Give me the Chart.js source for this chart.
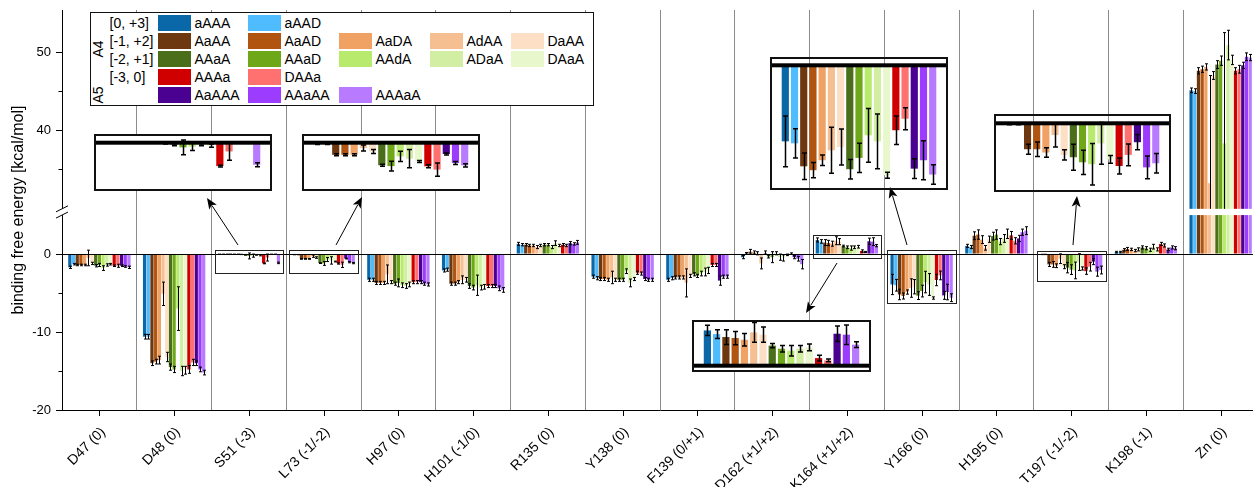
<!DOCTYPE html>
<html>
<head>
<meta charset="utf-8">
<title>Binding free energy</title>
<script src="https://cdn.jsdelivr.net/npm/chart.js@4.4.1/dist/chart.umd.min.js"></script>
<style>
  html, body { margin: 0; padding: 0; background: #fff; overflow: hidden; }
  #wrap { position: relative; width: 1258px; height: 487px; font-family: 'Liberation Sans', Arial, sans-serif; }
  #main { position: absolute; left: 0; top: 0; }
  .inset { position: absolute; border: 2px solid #111; box-sizing: border-box; }
  .inset canvas { display: block; }
  #legend { position: absolute; left: 90px; top: 12px; width: 504px; height: 94px; border: 1.5px solid #111; box-sizing: border-box; background: #fff; font-size: 14px; color: #000; }
  #legend div { position: absolute; white-space: nowrap; line-height: 16px; }
  #legend .sw { width: 33px; height: 16px; }
  #legend .rot { transform: translate(-50%, -50%) rotate(-90deg); }
</style>
</head>
<body>
<div id="wrap">
  <canvas id="main" width="1258" height="487"></canvas>
  <div id="legend"></div>
</div>
<script>
const FONT = "'Liberation Sans', Arial, sans-serif";

const categories = ['D47 (0)', 'D48 (0)', 'S51 (-3)', 'L73 (-1/-2)', 'H97 (0)', 'H101 (-1/0)', 'R135 (0)', 'Y138 (0)',
  'F139 (0/+1)', 'D162 (+1/+2)', 'K164 (+1/+2)', 'Y166 (0)', 'H195 (0)', 'T197 (-1/-2)', 'K198 (-1)', 'Zn (0)'];

const seriesNames = ['aAAA', 'aAAD', 'AaAA', 'AaAD', 'AaDA', 'AdAA', 'DaAA', 'AAaA', 'AAaD', 'AAdA', 'ADaA', 'DAaA',
  'AAAa', 'DAAa', 'AaAAA', 'AAaAA', 'AAAaA'];
const seriesColors = ['#0a68a8', '#4fbcff', '#6d3810', '#b05410', '#f0a264', '#f6bf92', '#fddfc6', '#4a6e1a', '#6ea818',
  '#b8ea6e', '#d2eea2', '#e8f8cc', '#d00000', '#ff7070', '#4a0090', '#9c3cff', '#b87aff'];

// legend rows: protonation range label + series
const legendGroups = ['[0, +3]', '[-1, +2]', '[-2, +1]', '[-3, 0]', ''];
const legendItems = [
  ['aAAA', 'aAAD'],
  ['AaAA', 'AaAD', 'AaDA', 'AdAA', 'DaAA'],
  ['AAaA', 'AAaD', 'AAdA', 'ADaA', 'DAaA'],
  ['AAAa', 'DAAa'],
  ['AaAAA', 'AAaAA', 'AAAaA']
];

// mean binding free energy per residue (kcal/mol), series order as seriesNames
const d47  = [-1.7, -1.3, -1.4, -1.4, -1.4, -0.5, -1.2, -1.5, -1.4, -1.8, -1.4, -1.3, -1.5, -1.5, -1.5, -1.6, -1.7];
const d48  = [-10.6, -10.6, -14.0, -13.8, -13.6, -5.1, -13.2, -14.5, -14.8, -7.0, -15.0, -14.9, -14.8, -13.9, -14.0, -14.8, -15.2];
const s51  = [-0.03, -0.03, -0.03, -0.03, -0.03, -0.03, -0.05, -0.1, -0.24, -0.2, -0.1, -0.15, -1.2, -0.45, -0.03, -0.03, -1.13];
const l73  = [-0.07, -0.07, -0.62, -0.62, -0.62, -0.27, -0.45, -1.16, -1.2, -0.7, -0.82, -0.96, -1.21, -1.38, -0.58, -1.04, -1.16];
const h97  = [-3.3, -3.3, -3.7, -3.7, -3.7, -2.6, -3.6, -3.8, -3.7, -4.0, -4.1, -3.9, -3.6, -3.6, -3.6, -3.8, -3.9];
const h101 = [-2.1, -2.0, -3.8, -3.8, -3.6, -3.3, -3.3, -4.1, -4.3, -4.0, -4.3, -4.2, -4.1, -4.1, -4.1, -4.4, -4.6];
const r135 = [1.3, 1.2, 1.2, 1.1, 1.1, 0.9, 1.1, 1.2, 1.2, 0.9, 1.4, 1.1, 1.2, 1.1, 1.4, 1.3, 1.5];
const y138 = [-2.9, -3.1, -3.2, -3.2, -3.3, -3.0, -3.3, -3.3, -3.3, -2.2, -3.7, -3.2, -2.4, -2.5, -3.2, -3.3, -3.3];
const f139 = [-3.3, -3.1, -3.0, -3.0, -3.0, -3.7, -2.8, -2.6, -2.8, -2.5, -2.3, -2.1, -1.4, -1.4, -3.4, -2.9, -2.9];
const d162 = [-0.4, 0.1, 0.3, 0.2, 0.1, -1.2, 0.2, -0.3, -0.4, 0.1, -0.4, -0.5, -0.1, 0.05, -0.4, -0.6, -1.3];
const k164 = [1.81, 1.62, 1.47, 1.42, 1.33, 1.71, 1.59, 1.03, 0.87, 0.77, 0.87, 0.94, 0.39, 0.27, 1.64, 1.59, 1.08];
const y166 = [-3.9, -4.0, -5.18, -5.38, -4.87, -4.36, -4.19, -5.33, -4.75, -3.59, -3.9, -5.64, -3.33, -2.74, -5.3, -4.87, -5.6];
const h195 = [1.05, 0.9, 2.35, 2.5, 1.85, 0.8, 1.9, 2.3, 2.5, 1.6, 2.0, 2.6, 2.4, 1.7, 2.0, 2.8, 3.0];
const t197 = [-0.05, -0.05, -1.33, -1.33, -1.5, -0.6, -1.62, -1.74, -2.0, -2.1, -1.03, -1.85, -2.19, -1.62, -0.97, -2.26, -2.05];
const k198 = [0.25, 0.25, 0.55, 0.65, 0.6, 0.45, 0.6, 0.85, 0.75, 0.55, 0.95, 0.6, 1.3, 1.1, 0.6, 0.85, 0.75];
const zn   = [45.1, 45.0, 47.6, 47.8, 48.1, 33.2, 47.0, 48.4, 48.9, 38.3, 50.9, 49.0, 47.6, 47.8, 48.3, 49.4, 49.3];

// standard deviations
const d47Err  = [0.15, 0.1, 0.1, 0.1, 0.1, 1.0, 0.15, 0.15, 0.2, 0.3, 0.15, 0.1, 0.1, 0.2, 0.1, 0.1, 0.15];
const d48Err  = [0.3, 0.3, 0.3, 0.3, 0.5, 1.5, 0.6, 0.4, 0.4, 2.8, 0.6, 0.5, 0.5, 0.4, 0.3, 0.3, 0.3];
const s51Err  = [0, 0, 0, 0, 0, 0, 0.02, 0.05, 0.38, 0.2, 0.05, 0.08, 0.05, 0.45, 0, 0, 0.1];
const l73Err  = [0.02, 0.02, 0.05, 0.05, 0.05, 0.15, 0.1, 0.05, 0.25, 0.26, 0.47, 0.05, 0.08, 0.34, 0.05, 0.08, 0.08];
const h97Err  = [0.2, 0.2, 0.2, 0.2, 0.2, 1.2, 0.2, 0.2, 0.5, 0.3, 0.3, 0.3, 0.2, 0.2, 0.2, 0.2, 0.2];
const h101Err = [0.2, 0.2, 0.2, 0.2, 0.2, 0.5, 0.3, 0.3, 0.3, 1.3, 0.3, 0.3, 0.2, 0.2, 0.2, 0.3, 0.3];
const r135Err = [0.2, 0.15, 0.15, 0.15, 0.15, 0.2, 0.15, 0.15, 0.15, 0.2, 0.3, 0.15, 0.15, 0.15, 0.2, 0.15, 0.25];
const y138Err = [0.2, 0.2, 0.2, 0.2, 0.2, 0.8, 0.2, 0.2, 0.2, 0.3, 0.5, 0.2, 0.2, 0.2, 0.2, 0.2, 0.2];
const f139Err = [0.2, 0.2, 0.2, 0.2, 0.2, 1.8, 0.2, 0.2, 0.2, 0.3, 0.5, 0.4, 0.2, 0.2, 0.6, 0.2, 0.2];
const d162Err = [0.2, 0.1, 0.3, 0.2, 0.2, 0.7, 0.2, 0.2, 0.7, 0.2, 0.4, 0.4, 0.1, 0.1, 0.2, 0.3, 0.6];
const k164Err = [0.26, 0.23, 0.38, 0.34, 0.32, 0.51, 0.39, 0.11, 0.17, 0.27, 0.17, 0.17, 0.15, 0.07, 0.4, 0.5, 0.15];
const y166Err = [1.3, 0.75, 0.68, 0.39, 0.27, 1.18, 0.92, 0.5, 0.75, 1.38, 1.4, 0.15, 0.73, 0.56, 0.51, 1.0, 0.5];
const h195Err = [0.2, 0.2, 0.5, 0.6, 0.5, 0.3, 0.4, 0.5, 0.6, 0.4, 0.5, 0.6, 0.5, 0.4, 0.4, 0.4, 0.5];
const t197Err = [0.02, 0.02, 0.26, 0.37, 0.24, 0.62, 0.26, 0.67, 0.62, 1.07, 1.07, 0.2, 0.41, 0.56, 0.39, 0.58, 0.5];
const k198Err = [0.1, 0.1, 0.15, 0.2, 0.15, 0.15, 0.2, 0.2, 0.2, 0.2, 0.3, 0.2, 0.2, 0.2, 0.15, 0.2, 0.2];
const znErr   = [0.3, 0.3, 0.4, 0.4, 0.4, 13.8, 0.5, 0.5, 0.6, 14.2, 1.9, 0.6, 0.4, 0.5, 0.4, 0.5, 0.4];

const yTicks = [-20, -10, 0, 40, 50];
const yMinorTicks = [-15, -5, 35, 45];

const meanByCategory = [d47, d48, s51, l73, h97, h101, r135, y138, f139, d162, k164, y166, h195, t197, k198, zn];
const errByCategory = [d47Err, d48Err, s51Err, l73Err, h97Err, h101Err, r135Err, y138Err, f139Err, d162Err,
  k164Err, y166Err, h195Err, t197Err, k198Err, znErr];

// broken y axis: values above the break are shifted down
const BREAK_AT = 5.6;
const BREAK_SHIFT = 24.1;
const GAP_FROM = 5.0, GAP_TO = 5.8;
function toAxis(v) {
  if (v <= BREAK_AT) return v;
  if (v >= BREAK_AT + BREAK_SHIFT) return v - BREAK_SHIFT;
  return BREAK_AT;
}
function fromAxis(t) { return t <= BREAK_AT ? t : t + BREAK_SHIFT; }

function drawErrorBars(chart, catIdx, capHalf, lineWidth, tf) {
  const { ctx, scales: { y } } = chart;
  ctx.save();
  ctx.strokeStyle = '#000';
  ctx.lineWidth = lineWidth;
  chart.data.datasets.forEach((ds, s) => {
    chart.getDatasetMeta(s).data.forEach((bar, j) => {
      const m = meanByCategory[catIdx[j]][s];
      const e = errByCategory[catIdx[j]][s];
      const x = Math.round(bar.x) + 0.5;
      const y1 = y.getPixelForValue(tf(m - e));
      const y2 = y.getPixelForValue(tf(m + e));
      ctx.beginPath();
      ctx.moveTo(x, y1); ctx.lineTo(x, y2);
      ctx.moveTo(x - capHalf, y1); ctx.lineTo(x + capHalf, y1);
      ctx.moveTo(x - capHalf, y2); ctx.lineTo(x + capHalf, y2);
      ctx.stroke();
    });
  });
  ctx.restore();
}

function drawArrow(ctx, x1, y1, x2, y2) {
  const a = Math.atan2(y2 - y1, x2 - x1);
  const len = 11, half = 4.5;
  ctx.beginPath();
  ctx.moveTo(x1, y1);
  ctx.lineTo(x2 - Math.cos(a) * len * 0.8, y2 - Math.sin(a) * len * 0.8);
  ctx.stroke();
  ctx.beginPath();
  ctx.moveTo(x2, y2);
  ctx.lineTo(x2 - Math.cos(a) * len - Math.sin(a) * half, y2 - Math.sin(a) * len + Math.cos(a) * half);
  ctx.lineTo(x2 - Math.cos(a) * len * 0.75, y2 - Math.sin(a) * len * 0.75);
  ctx.lineTo(x2 - Math.cos(a) * len + Math.sin(a) * half, y2 - Math.sin(a) * len - Math.cos(a) * half);
  ctx.closePath();
  ctx.fill();
}

// zoomed regions: category, value range of the marking box
const zoomBoxes = [
  { cat: 2, top: 0.5, bottom: -2.4 },
  { cat: 3, top: 0.5, bottom: -2.4 },
  { cat: 10, top: 2.4, bottom: -0.5 },
  { cat: 11, top: 0.5, bottom: -6.3 },
  { cat: 13, top: 0.4, bottom: -3.5 }
];
const arrows = [
  [238, 245, 207, 198],
  [336, 245, 362, 197],
  [837, 263, 806, 313],
  [907, 245, 890, 187],
  [1073, 245, 1077, 196]
];

const mainExtras = {
  id: 'mainExtras',
  afterDraw(chart) {
    const { ctx, chartArea: area, scales: { x, y } } = chart;
    const catW = x.width / categories.length;

    drawErrorBars(chart, categories.map((c, i) => i), 1.5, 1, toAxis);

    // zero line
    const y0 = Math.round(y.getPixelForValue(0)) + 0.5;
    ctx.save();
    ctx.strokeStyle = '#000';
    ctx.lineWidth = 1;
    ctx.beginPath(); ctx.moveTo(area.left, y0); ctx.lineTo(area.right, y0); ctx.stroke();

    // gap in bars that cross the axis break
    const gTop = y.getPixelForValue(GAP_TO), gBot = y.getPixelForValue(GAP_FROM);
    ctx.fillStyle = '#fff';
    meanByCategory.forEach((row, i) => {
      if (Math.max(...row) > BREAK_AT) {
        const cx = x.getPixelForValue(i);
        ctx.fillRect(cx - catW / 2 + 1.5, gTop, catW - 2, gBot - gTop);
      }
    });

    // break mark on the y axis
    ctx.fillRect(area.left - 6, gTop, 13, gBot - gTop);
    ctx.beginPath();
    ctx.moveTo(area.left - 6, gTop + 3); ctx.lineTo(area.left + 6, gTop - 3);
    ctx.moveTo(area.left - 6, gBot + 3); ctx.lineTo(area.left + 6, gBot - 3);
    ctx.stroke();

    // minor y ticks
    yMinorTicks.forEach(v => {
      const py = Math.round(y.getPixelForValue(toAxis(v))) + 0.5;
      ctx.beginPath(); ctx.moveTo(area.left - 3.5, py); ctx.lineTo(area.left, py); ctx.stroke();
    });

    // x ticks at category centres
    categories.forEach((c, i) => {
      const px = Math.round(x.getPixelForTick(i)) + 0.5;
      ctx.beginPath(); ctx.moveTo(px, area.bottom); ctx.lineTo(px, area.bottom + 6); ctx.stroke();
    });

    // boxes around zoomed regions
    ctx.strokeStyle = '#222';
    zoomBoxes.forEach(b => {
      const cx = x.getPixelForValue(b.cat);
      const l = Math.round(cx - catW / 2 + 3) + 0.5, r = Math.round(cx + catW / 2 - 3) + 0.5;
      const t = Math.round(y.getPixelForValue(b.top)) + 0.5, bt = Math.round(y.getPixelForValue(b.bottom)) + 0.5;
      ctx.strokeRect(l, t, r - l, bt - t);
    });

    ctx.strokeStyle = '#000';
    ctx.fillStyle = '#000';
    arrows.forEach(a => drawArrow(ctx, a[0], a[1], a[2], a[3]));
    ctx.restore();
  }
};

new Chart(document.getElementById('main'), {
  type: 'bar',
  data: {
    labels: categories,
    datasets: seriesNames.map((name, s) => ({
      label: name,
      data: meanByCategory.map(row => toAxis(row[s])),
      backgroundColor: seriesColors[s],
      borderWidth: 0,
      categoryPercentage: 0.84,
      barPercentage: 0.88
    }))
  },
  options: {
    responsive: false,
    animation: false,
    devicePixelRatio: 1,
    layout: { padding: { top: 10, left: 0, right: 0, bottom: 0 } },
    plugins: { legend: { display: false }, tooltip: { enabled: false } },
    scales: {
      x: {
        grid: { offset: true, color: '#8c8c8c', drawTicks: false },
        border: { color: '#000' },
        ticks: {
          color: '#000', autoSkip: false, minRotation: 45, maxRotation: 45, padding: 14, labelOffset: 4,
          font: { family: FONT, size: 14 }
        },
        afterFit: s => { s.height = 77; s.paddingLeft = 0; s.paddingRight = 0; }
      },
      y: {
        min: -20,
        max: 31.3,
        afterBuildTicks: s => { s.ticks = yTicks.map(v => ({ value: toAxis(v) })); },
        grid: { drawOnChartArea: false, color: '#000', tickLength: 6 },
        border: { color: '#000' },
        ticks: {
          color: '#000', padding: 5, font: { family: FONT, size: 13 },
          callback: v => Math.round(fromAxis(v))
        },
        title: {
          display: true, text: 'binding free energy [kcal/mol]', color: '#000',
          font: { family: FONT, size: 16 }, padding: { top: 9, bottom: 0 }
        },
        afterFit: s => { s.width = 62; s.paddingTop = 0; s.paddingBottom = 0; }
      }
    }
  },
  plugins: [mainExtras]
});

// magnified insets
const INSET_PX_PER_UNIT = 19.5;
const insetSpecs = [
  { cat: 2, left: 94, top: 134, width: 178, height: 57, zeroY: 142.7, fill: '#fff' },
  { cat: 3, left: 302, top: 134, width: 178, height: 57, zeroY: 142.7, fill: '#fff' },
  { cat: 10, left: 692, top: 320, width: 179, height: 52, zeroY: 365.7, fill: '#fff' },
  { cat: 11, left: 770, top: 57, width: 178, height: 133, zeroY: 65.3, fill: 'transparent' },
  { cat: 13, left: 994, top: 114, width: 177, height: 78, zeroY: 123.3, fill: 'transparent' }
];

const insetExtras = {
  id: 'insetExtras',
  afterDraw(chart) {
    const { ctx, chartArea: area, scales: { y } } = chart;
    drawErrorBars(chart, [chart.options.catIndex], 2.5, 1.5, v => v);
    const y0 = y.getPixelForValue(0);
    ctx.save();
    ctx.fillStyle = '#000';
    ctx.fillRect(area.left, y0 - 2, area.right - area.left, 4);
    ctx.restore();
  }
};

const wrap = document.getElementById('wrap');
insetSpecs.forEach(spec => {
  const box = document.createElement('div');
  box.className = 'inset';
  Object.assign(box.style, {
    left: spec.left + 'px', top: spec.top + 'px', width: spec.width + 'px', height: spec.height + 'px',
    background: spec.fill
  });
  const cv = document.createElement('canvas');
  const w = spec.width - 4, h = spec.height - 4;
  cv.width = w; cv.height = h;
  box.appendChild(cv);
  wrap.appendChild(box);
  const zr = spec.zeroY - spec.top - 2;
  new Chart(cv, {
    type: 'bar',
    data: {
      labels: [categories[spec.cat]],
      datasets: seriesNames.map((name, s) => ({
        label: name,
        data: [meanByCategory[spec.cat][s]],
        backgroundColor: seriesColors[s],
        borderWidth: 0,
        categoryPercentage: 0.9,
        barPercentage: 0.78
      }))
    },
    options: {
      catIndex: spec.cat,
      responsive: false,
      animation: false,
      devicePixelRatio: 1,
      layout: { padding: 0 },
      plugins: { legend: { display: false }, tooltip: { enabled: false } },
      scales: {
        x: { display: false },
        y: { display: false, min: -(h - zr) / INSET_PX_PER_UNIT, max: zr / INSET_PX_PER_UNIT }
      }
    },
    plugins: [insetExtras]
  });
});

// legend
const colX = [158, 248, 339, 430, 511];
const rowY = [23, 41, 59, 77, 95];
const legend = document.getElementById('legend');
const OX = 91.5, OY = 13.5;
function addEl(cls, text, left, top, extra) {
  const d = document.createElement('div');
  if (cls) d.className = cls;
  if (text) d.textContent = text;
  d.style.left = left + 'px';
  d.style.top = top + 'px';
  Object.assign(d.style, extra || {});
  legend.appendChild(d);
  return d;
}
legendGroups.forEach((g, r) => {
  if (g) addEl('', g, 110 - OX, rowY[r] - 8 - OY);
  legendItems[r].forEach((name, c) => {
    const s = seriesNames.indexOf(name);
    addEl('sw', '', colX[c] - OX, rowY[r] - 8 - OY, { background: seriesColors[s] });
    addEl('', name, colX[c] + 37 - OX, rowY[r] - 8 - OY);
  });
});
addEl('rot', 'A4', 98 - OX, 49 - OY);
addEl('rot', 'A5', 98 - OX, 95 - OY);
</script>
</body>
</html>
